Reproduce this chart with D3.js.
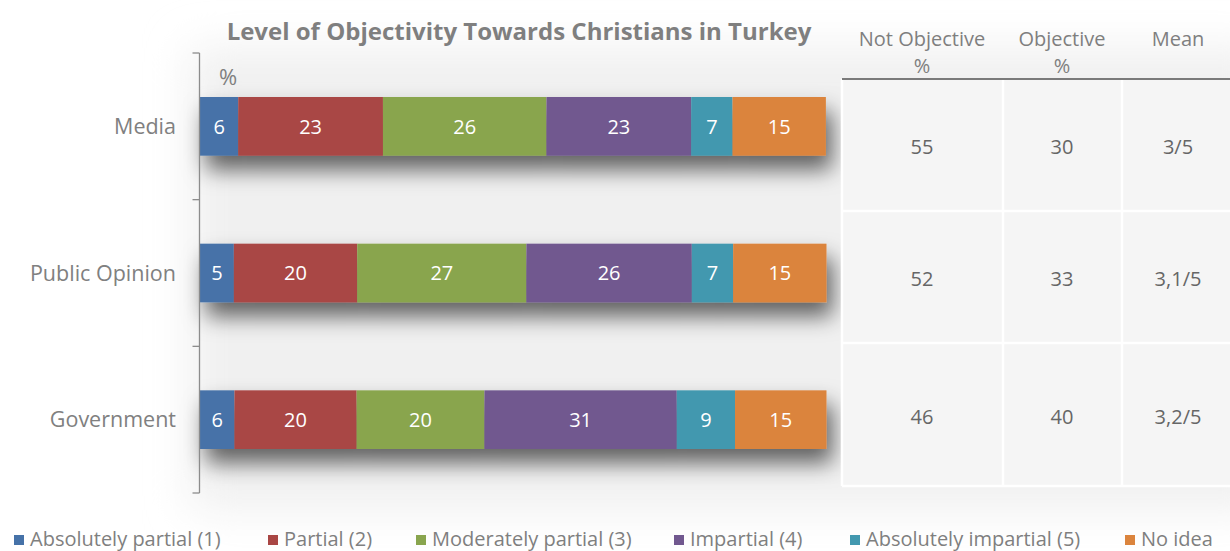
<!DOCTYPE html>
<html>
<head>
<meta charset="utf-8">
<script src="https://cdn.jsdelivr.net/npm/d3@7"></script>
<style>
  html, body { margin: 0; padding: 0; background: #ffffff; }
  svg { display: block; font-family: "Open Sans", Lato, sans-serif; }
</style>
</head>
<body>
<svg id="chart" width="1230" height="551"></svg>
<script>
// ---------- data ----------
const categories = ["Media", "Public Opinion", "Government"];
const seriesNames = ["Absolutely partial (1)", "Partial (2)", "Moderately partial (3)", "Impartial (4)", "Absolutely impartial (5)", "No idea"];
const absolutelyPartial   = [6.1, 5.4, 5.5];
const partial             = [23.1, 19.7, 19.5];
const moderatelyPartial   = [26.1, 27.0, 20.4];
const impartial           = [23.1, 26.4, 30.7];
const absolutelyImpartial = [6.6, 6.6, 9.3];
const noIdea              = [14.9, 14.9, 14.6];
const seriesColors = ["#4672A8", "#A94644", "#89A54E", "#71588F", "#4298AF", "#DB843D"];

const tableHeaders = [["Not Objective", "%"], ["Objective", "%"], ["Mean"]];
const notObjective = [55, 52, 46];
const objective    = [30, 33, 40];
const meanScore    = ["3/5", "3,1/5", "3,2/5"];
const chartTitle = "Level of Objectivity Towards Christians in Turkey";

// ---------- build ----------
const seriesValues = [absolutelyPartial, partial, moderatelyPartial, impartial, absolutelyImpartial, noIdea];
const rows = categories.map((c, i) => {
  const r = { category: c };
  seriesNames.forEach((s, j) => r[s] = seriesValues[j][i]);
  return r;
});

const svg = d3.select("#chart");
const defs = svg.append("defs");

const bg = defs.append("filter").attr("id", "bgblur").attr("x", "-20%").attr("y", "-20%").attr("width", "140%").attr("height", "140%");
bg.append("feGaussianBlur").attr("stdDeviation", 22);

const sh = defs.append("filter").attr("id", "shadow").attr("x", "-10%").attr("y", "-60%").attr("width", "125%").attr("height", "280%");
sh.append("feDropShadow").attr("dx", 6).attr("dy", 14).attr("stdDeviation", 11)
  .attr("flood-color", "#000").attr("flood-opacity", 0.6);

// soft background glow
svg.append("rect").attr("x", 190).attr("y", 48).attr("width", 1080).attr("height", 462)
  .attr("fill", "#f0f0f0").attr("filter", "url(#bgblur)");

const x = d3.scaleLinear().domain([0, 100]).range([200, 826.5]);
const y = d3.scaleBand().domain(categories).range([53, 493]).paddingInner(0.6).paddingOuter(0.3);
const yAxisScale = d3.scaleBand().domain(categories).range([53, 493]);

const color = d3.scaleOrdinal().domain(seriesNames).range(seriesColors);
const stacked = d3.stack().keys(seriesNames)(rows);

// title
svg.append("text").attr("x", 519).attr("y", 40).attr("text-anchor", "middle")
  .attr("font-size", 24).attr("font-weight", "bold").attr("fill", "#7f7f7f")
  .text(chartTitle);

// % label
svg.append("text").attr("x", 228).attr("y", 85).attr("text-anchor", "middle")
  .attr("font-size", 22).attr("fill", "#808080").text("%");

// bars
const barGroups = svg.append("g").selectAll("g.bar").data(categories).join("g")
  .attr("class", "bar").attr("filter", "url(#shadow)");
barGroups.each(function(cat, i) {
  const g = d3.select(this);
  stacked.forEach(layer => {
    const d = layer[i];
    g.append("rect")
      .attr("x", x(d[0])).attr("y", y(cat))
      .attr("width", x(d[1]) - x(d[0])).attr("height", y.bandwidth())
      .attr("fill", color(layer.key));
  });
});

// bar labels
const labG = svg.append("g");
stacked.forEach(layer => {
  layer.forEach((d, i) => {
    labG.append("text")
      .attr("x", (x(d[0]) + x(d[1])) / 2)
      .attr("y", y(categories[i]) + y.bandwidth() / 2)
      .attr("dy", "0.36em")
      .attr("text-anchor", "middle").attr("font-size", 20).attr("fill", "#ffffff")
      .text(Math.round(d[1] - d[0]));
  });
});

// y axis
const yAxis = d3.axisLeft(yAxisScale).tickSize(0).tickPadding(0).tickFormat("");
const axG = svg.append("g").attr("transform", "translate(199.5,0)").call(yAxis);
axG.select(".domain").attr("stroke", "#8c8c8c").attr("stroke-width", 1.3)
  .attr("d", "M0,53V493");
const tickYs = [53].concat(categories.map(c => yAxisScale(c) + yAxisScale.bandwidth()));
axG.selectAll("line.bt").data(tickYs).join("line").attr("class", "bt")
  .attr("x1", -7).attr("x2", 0).attr("y1", d => d).attr("y2", d => d)
  .attr("stroke", "#8c8c8c").attr("stroke-width", 1.3);
// category labels
svg.append("g").selectAll("text").data(categories).join("text")
  .attr("x", 176).attr("y", d => y(d) + y.bandwidth() / 2).attr("dy", "0.36em")
  .attr("text-anchor", "end").attr("font-size", 21.5).attr("fill", "#808080")
  .text(d => d);

// ---------- table ----------
const colLines = [842, 1003, 1122, 1232];
const rowLines = [79, 211, 343, 486];
const colCenters = [922, 1062, 1178];
const tg = svg.append("g");
tg.append("rect").attr("x", colLines[0]).attr("y", rowLines[0]).attr("width", 1230 - colLines[0])
  .attr("height", rowLines[3] - rowLines[0]).attr("fill", "#f5f5f5");
colLines.slice(0, 3).forEach(cx => tg.append("line").attr("x1", cx).attr("x2", cx)
  .attr("y1", rowLines[0]).attr("y2", rowLines[3]).attr("stroke", "#ffffff").attr("stroke-width", 2.5));
rowLines.slice(1).forEach(ry => tg.append("line").attr("x1", colLines[0]).attr("x2", 1230)
  .attr("y1", ry).attr("y2", ry).attr("stroke", "#ffffff").attr("stroke-width", 2.5));
tg.append("line").attr("x1", colLines[0]).attr("x2", 1230).attr("y1", rowLines[0]).attr("y2", rowLines[0])
  .attr("stroke", "#7a7a7a").attr("stroke-width", 2);

tableHeaders.forEach((h, j) => {
  h.forEach((line, k) => {
    tg.append("text").attr("x", colCenters[j]).attr("y", 46 + k * 27)
      .attr("text-anchor", "middle").attr("font-size", 20).attr("fill", "#7f7f7f").text(line);
  });
});
const tableCols = [notObjective, objective, meanScore];
tableCols.forEach((col, j) => {
  col.forEach((v, i) => {
    tg.append("text").attr("x", colCenters[j]).attr("y", (rowLines[i] + rowLines[i + 1]) / 2 + 2)
      .attr("dy", "0.36em").attr("text-anchor", "middle").attr("font-size", 20)
      .attr("fill", "#666666").text(v);
  });
});

// ---------- legend ----------
const legendX = [14, 268, 416, 674, 850, 1125];
const lg = svg.append("g");
seriesNames.forEach((s, j) => {
  lg.append("rect").attr("x", legendX[j]).attr("y", 535).attr("width", 10).attr("height", 10)
    .attr("fill", color(s));
  lg.append("text").attr("x", legendX[j] + 16).attr("y", 539).attr("dy", "0.34em")
    .attr("font-size", 20).attr("fill", "#7f7f7f").text(s);
});
</script>
</body>
</html>
